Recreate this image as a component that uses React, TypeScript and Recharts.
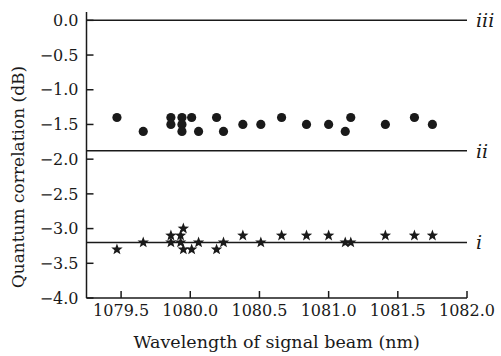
import { ScatterChart, Scatter, XAxis, YAxis, ReferenceLine } from "recharts"

const dotWavelengths = [
  1079.47, 1079.66, 1079.86, 1079.86, 1079.94, 1079.94, 1079.94, 1080.01, 1080.06, 1080.19, 1080.24,
  1080.38, 1080.51, 1080.66, 1080.84, 1081.0, 1081.12, 1081.16, 1081.41, 1081.62, 1081.75,
]
const dotValues = [
  -1.4, -1.6, -1.4, -1.5, -1.4, -1.5, -1.6, -1.4, -1.6, -1.4, -1.6,
  -1.5, -1.5, -1.4, -1.5, -1.5, -1.6, -1.4, -1.5, -1.4, -1.5,
]

const starWavelengths = [
  1079.47, 1079.66, 1079.86, 1079.86, 1079.93, 1079.93, 1079.95, 1079.95, 1080.01, 1080.06, 1080.19,
  1080.24, 1080.38, 1080.51, 1080.66, 1080.84, 1081.0, 1081.12, 1081.16, 1081.41, 1081.62, 1081.75,
]
const starValues = [
  -3.3, -3.2, -3.1, -3.2, -3.1, -3.2, -3.0, -3.3, -3.3, -3.2, -3.3,
  -3.2, -3.1, -3.2, -3.1, -3.1, -3.1, -3.2, -3.2, -3.1, -3.1, -3.1,
]

const xTicks = [1079.5, 1080.0, 1080.5, 1081.0, 1081.5, 1082.0]
const yTicks = [0, -0.5, -1.0, -1.5, -2.0, -2.5, -3.0, -3.5, -4.0]

const levels = [
  { y: 0, label: "iii" },
  { y: -1.88, label: "ii" },
  { y: -3.2, label: "i" },
]

const dotData = dotWavelengths.map((x, i) => ({ x, y: dotValues[i] }))
const starData = starWavelengths.map((x, i) => ({ x, y: starValues[i] }))

const font = "'DejaVu Serif', serif"
const ink = "#1a1a1a"

const fmtY = (v: number) => (v < 0 ? "\u2212" + Math.abs(v).toFixed(1) : v.toFixed(1))

function Dot(props: any) {
  const { cx, cy } = props
  return <circle cx={cx} cy={cy} r={4.6} fill={ink} />
}

function Star(props: any) {
  const { cx, cy } = props
  const outer = 6
  const inner = 2.5
  const pts: string[] = []
  for (let k = 0; k < 10; k++) {
    const r = k % 2 === 0 ? outer : inner
    const a = -Math.PI / 2 + (k * Math.PI) / 5
    pts.push(`${cx + r * Math.cos(a)},${cy + r * Math.sin(a)}`)
  }
  return <polygon points={pts.join(" ")} fill={ink} />
}

export default function App() {
  return (
    <div style={{ position: "absolute", left: 0, top: 0, background: "#fff" }}>
      <ScatterChart width={501} height={356} margin={{ top: 12, right: 34, bottom: 0, left: 0 }}>
        <XAxis
          type="number"
          dataKey="x"
          domain={[1079.25, 1082.0]}
          ticks={xTicks}
          tickFormatter={(v: number) => v.toFixed(1)}
          allowDataOverflow
          height={58}
          tickSize={-7}
          tickMargin={14}
          stroke={ink}
          strokeWidth={1.5}
          tick={{ fill: ink, fontSize: 16, fontFamily: font }}
          label={{
            value: "Wavelength of signal beam (nm)",
            position: "insideBottom",
            offset: 8,
            fill: ink,
            fontSize: 17.5,
            fontFamily: font,
          }}
        />
        <YAxis
          type="number"
          dataKey="y"
          domain={[-4, 0.12]}
          ticks={yTicks}
          tickFormatter={fmtY}
          allowDataOverflow
          width={86.5}
          tickSize={-7}
          tickMargin={15}
          stroke={ink}
          strokeWidth={1.5}
          tick={{ fill: ink, fontSize: 16, fontFamily: font }}
          label={{
            value: "Quantum correlation (dB)",
            angle: -90,
            position: "insideLeft",
            offset: 0,
            dx: 18,
            dy: 22,
            fill: ink,
            fontSize: 17,
            fontFamily: font,
            style: { textAnchor: "middle" },
          }}
        />
        {levels.map((l) => (
          <ReferenceLine
            key={l.label}
            y={l.y}
            stroke={ink}
            strokeWidth={1.5}
            label={{
              value: l.label,
              position: "right",
              offset: 9,
              fill: ink,
              fontSize: 19,
              fontFamily: font,
              fontStyle: "italic",
            }}
          />
        ))}
        <Scatter data={dotData} shape={Dot} isAnimationActive={false} />
        <Scatter data={starData} shape={Star} isAnimationActive={false} />
      </ScatterChart>
    </div>
  )
}
